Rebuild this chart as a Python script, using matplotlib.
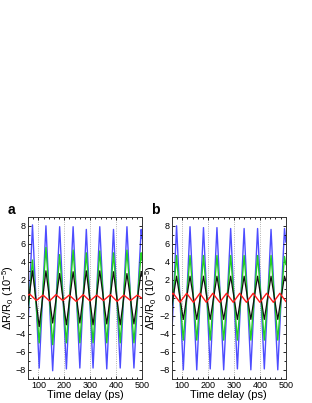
import matplotlib
matplotlib.use('Agg')
import matplotlib.pyplot as plt
from matplotlib.ticker import MultipleLocator

plt.rcParams['font.family'] = ['Liberation Sans', 'DejaVu Sans']
plt.rcParams['mathtext.fontset'] = 'custom'
plt.rcParams['mathtext.rm'] = 'Liberation Sans'

# extremum times (ps), first and last are the axis edges
times_a = [60, 77, 103, 129, 155, 182, 208, 234, 260, 285, 311, 337, 364, 390, 416, 442, 469, 497, 500]
blue_a = [-3.0, 8.1, -7.8, 8.0, -8.1, 7.9, -7.9, 7.9, -7.8, 7.6, -7.8, 7.9, -7.9, 7.6, -7.8, 7.9, -7.8, 7.6, 6.6]
green_a = [-1.5, 4.2, -5.0, 5.6, -5.2, 4.8, -5.0, 5.3, -5.0, 5.0, -5.0, 5.2, -5.0, 5.0, -5.0, 5.3, -5.0, 5.0, 4.2]
black_a = [-0.8, 3.0, -3.2, 3.0, -2.8, 2.7, -3.0, 2.9, -2.8, 3.0, -3.0, 3.0, -2.9, 2.9, -3.0, 2.7, -2.9, 2.9, 2.4]
times_red_a = [60, 67, 92, 118, 143, 168, 194, 219, 246, 273, 299, 325, 351, 378, 404, 430, 456, 482, 500]
red_a = [0.3, 0.4, -0.3, 0.3, -0.35, 0.35, -0.3, 0.3, -0.4, 0.35, -0.35, 0.3, -0.3, 0.35, -0.4, 0.3, -0.3, 0.3, -0.05]

# panel b
times_b = [60, 78, 104, 130, 156, 182, 208, 234, 260, 287, 313, 339, 365, 391, 417, 443, 469, 495, 500]
blue_b = [-4.0, 8.0, -8.0, 7.9, -8.0, 7.8, -7.9, 7.8, -8.0, 7.7, -7.9, 7.7, -8.0, 7.7, -7.9, 7.6, -8.0, 7.7, 6.2]
green_b = [-1.6, 4.7, -4.7, 4.7, -4.7, 4.7, -4.7, 4.7, -4.7, 4.7, -4.7, 4.7, -4.7, 4.7, -4.7, 4.7, -4.7, 4.6, 3.7]
black_b = [-0.8, 2.4, -2.4, 2.4, -2.4, 2.4, -2.4, 2.4, -2.4, 2.4, -2.4, 2.4, -2.4, 2.4, -2.4, 2.4, -2.4, 2.4, 1.9]
times_red_b = [60, 65, 91, 117, 143, 168, 193, 218, 245, 271, 297, 322, 348, 374, 400, 426, 452, 477, 500]
red_b = [0.4, 0.5, -0.5, 0.5, -0.5, 0.5, -0.5, 0.5, -0.5, 0.5, -0.5, 0.5, -0.5, 0.5, -0.5, 0.5, -0.5, 0.5, -0.4]

grid_x = [100, 200, 300, 400]
panels = [
    ('a', 0.090, times_a, blue_a, green_a, black_a, times_red_a, red_a),
    ('b', 0.551, times_b, blue_b, green_b, black_b, times_red_b, red_b),
]

fig = plt.figure(figsize=(3.12, 4.03), dpi=100)

for name, left, t, blue, green, black, tr, red in panels:
    ax = fig.add_axes([left, 0.060, 0.365, 0.402])
    for gx in grid_x:
        ax.axvline(gx, color='#999999', linestyle=':', linewidth=0.6, zorder=0)
    ax.plot(t, blue, color='#4d4dff', linewidth=1.0, zorder=1)
    ax.plot(t, green, color='#22d022', linewidth=1.0, zorder=2)
    ax.plot(t, black, color='#111111', linewidth=0.9, zorder=3)
    ax.plot(tr, red, color='#ff1a1a', linewidth=1.0, zorder=4)

    ax.set_xlim(60, 500)
    ax.set_ylim(-9, 9)
    ax.xaxis.set_major_locator(MultipleLocator(100))
    ax.xaxis.set_minor_locator(MultipleLocator(20))
    ax.yaxis.set_major_locator(MultipleLocator(2))
    ax.yaxis.set_minor_locator(MultipleLocator(1))
    ax.tick_params(which='both', direction='in', top=True, right=True, width=0.6)
    ax.tick_params(which='major', length=2.5, labelsize=6.5, pad=1.5)
    ax.tick_params(which='minor', length=1.5)
    for sp in ax.spines.values():
        sp.set_linewidth(0.7)
        sp.set_color('#333333')

    ax.set_xlabel('Time delay (ps)', fontsize=8, labelpad=0)
    # rotated label is anchored at its right edge
    ax.set_ylabel(r'$\Delta$R/R$_0$ (10$^{-5}$)', fontsize=8)
    ax.yaxis.set_label_coords(-0.11, 0.5)
    ax.text(-0.18, 1.0, name, transform=ax.transAxes, fontsize=10,
            fontweight='bold', ha='left', va='bottom')

fig.savefig('out.png', dpi=100)
